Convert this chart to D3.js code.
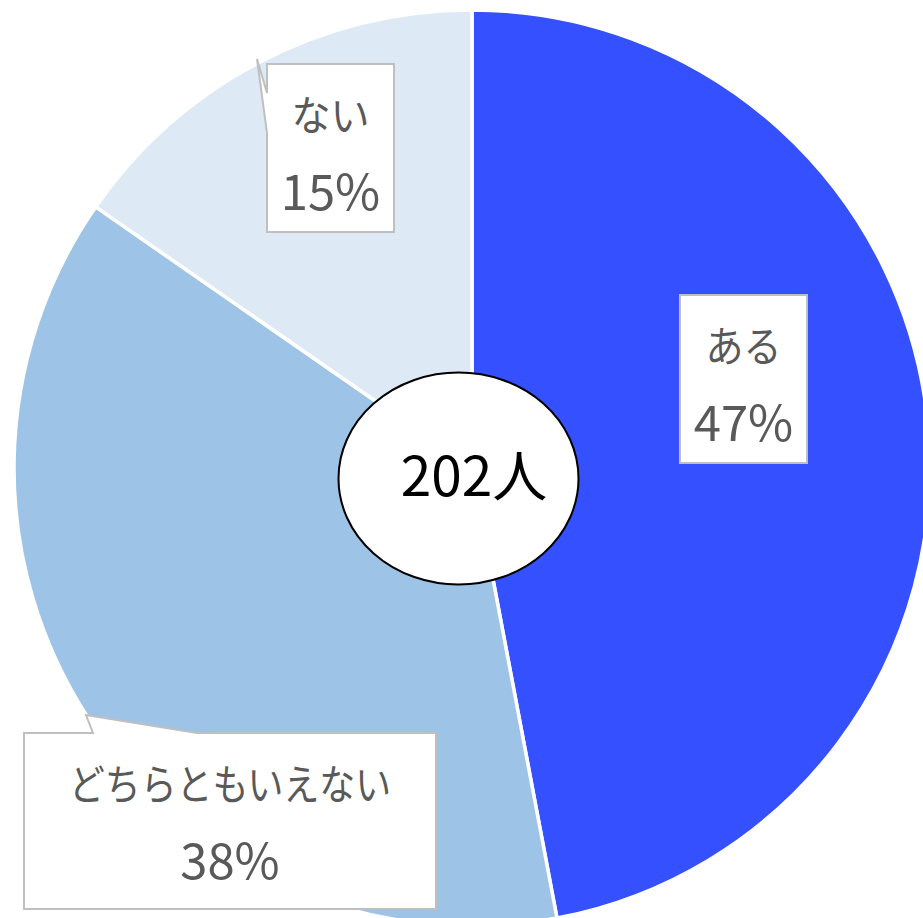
<!DOCTYPE html>
<html>
<head>
<meta charset="utf-8">
<script src="https://cdn.jsdelivr.net/npm/d3@7"></script>
<style>
  html, body { margin: 0; padding: 0; background: #fff; overflow: hidden; }
  svg { display: block; font-family: "Noto Sans CJK JP", "Noto Sans", sans-serif; }
</style>
</head>
<body>
<svg id="chart" width="923" height="918"></svg>
<script>
// answers and head counts (202 people in total)
const categories = ["ある", "どちらともいえない", "ない"];
const counts = [95, 76, 31];
const colors = ["#3450FF", "#9DC3E6", "#DDEAF6"];
const totalLabel = "202人";

// callout boxes for the data labels: box rect, label width, pointer wedge (tip and base on an edge)
const callouts = [
  { x: 680, y: 295, w: 127, h: 168, tw: 76, wedge: null },
  { x: 24, y: 733, w: 412, h: 176, tw: 322, wedge: { side: "top", a: 93, b: 197, tip: [86, 715] } },
  { x: 267, y: 64, w: 127, h: 168, tw: 78, wedge: { side: "left", a: 93, b: 133, tip: [257, 59] } }
];

const svg = d3.select("#chart");
const cx = 472, cy = 468, r = 458;
const total = d3.sum(counts);

const pie = d3.pie().sort(null).value(d => d)(counts);
const arc = d3.arc().innerRadius(0).outerRadius(r);

const g = svg.append("g").attr("transform", `translate(${cx},${cy})`);
g.selectAll("path.slice")
  .data(pie)
  .join("path")
  .attr("class", "slice")
  .attr("d", arc)
  .attr("fill", (d, i) => colors[i])
  .attr("stroke", "#fff")
  .attr("stroke-width", 3.5)
  .attr("stroke-linejoin", "round");

// center bubble
svg.append("ellipse")
  .attr("cx", 458.5).attr("cy", 478.5)
  .attr("rx", 120).attr("ry", 106)
  .attr("fill", "#fff")
  .attr("stroke", "#000")
  .attr("stroke-width", 2);
svg.append("text")
  .attr("x", 474).attr("y", 496)
  .attr("text-anchor", "middle")
  .attr("font-size", 55)
  .attr("fill", "#000")
  .text(totalLabel);

// data label callouts
function calloutPath(c) {
  const x0 = c.x, y0 = c.y, x1 = c.x + c.w, y1 = c.y + c.h, w = c.wedge;
  const p = d3.path();
  if (w && w.side === "top") {
    p.moveTo(x0, y0); p.lineTo(w.a, y0); p.lineTo(w.tip[0], w.tip[1]); p.lineTo(w.b, y0);
    p.lineTo(x1, y0); p.lineTo(x1, y1); p.lineTo(x0, y1); p.closePath();
  } else if (w && w.side === "left") {
    p.moveTo(x0, y0); p.lineTo(x1, y0); p.lineTo(x1, y1); p.lineTo(x0, y1);
    p.lineTo(x0, w.b); p.lineTo(w.tip[0], w.tip[1]); p.lineTo(x0, w.a); p.closePath();
  } else {
    p.rect(x0, y0, c.w, c.h);
  }
  return p.toString();
}

const labels = svg.selectAll("g.label")
  .data(pie)
  .join("g")
  .attr("class", "label");

labels.append("path")
  .attr("d", (d, i) => calloutPath(callouts[i]))
  .attr("fill", "#fff")
  .attr("stroke", "#BFBFBF")
  .attr("stroke-width", 2)
  .attr("stroke-linejoin", "miter");

labels.append("text")
  .attr("x", (d, i) => callouts[i].x + callouts[i].w / 2)
  .attr("y", (d, i) => callouts[i].y + 67)
  .attr("text-anchor", "middle")
  .attr("font-size", 42)
  .attr("fill", "#595959")
  .attr("textLength", (d, i) => callouts[i].tw)
  .attr("lengthAdjust", "spacingAndGlyphs")
  .text((d, i) => categories[i]);

labels.append("text")
  .attr("x", (d, i) => callouts[i].x + callouts[i].w / 2)
  .attr("y", (d, i) => callouts[i].y + 146)
  .attr("text-anchor", "middle")
  .attr("font-size", 49)
  .attr("fill", "#595959")
  .text(d => Math.round(d.value / total * 100) + "%");
</script>
</body>
</html>
